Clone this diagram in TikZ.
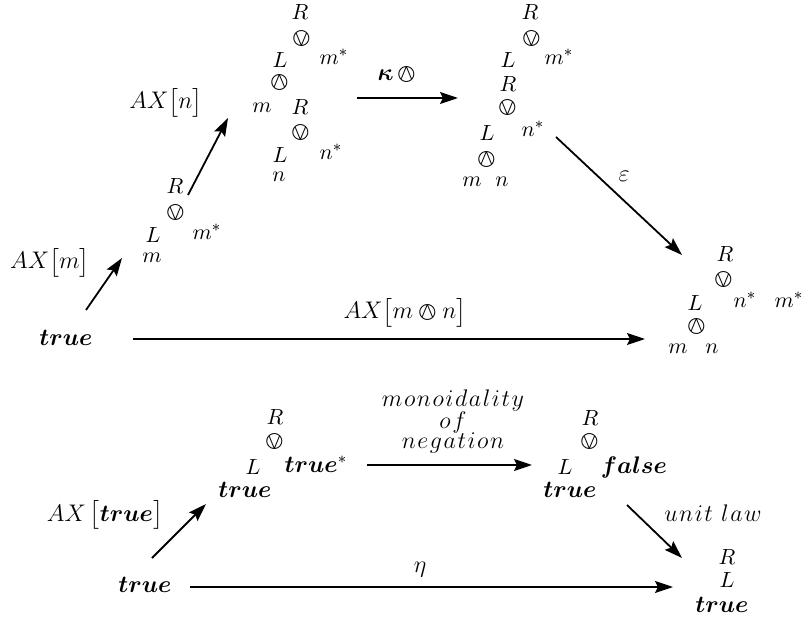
\documentclass[tikz,border=0pt]{standalone}
\usepackage{amsmath}
\usepackage{bm}
\usepackage{stmaryrd}
\usetikzlibrary{arrows.meta}
\newcommand{\tru}{\bm{true}}
\newcommand{\ls}{\mskip1.2mu}
\begin{document}
\begin{tikzpicture}[x=0.5pt,y=-0.5pt,
  lbl/.style={inner sep=0pt,outer sep=0pt,font=\fontsize{12}{14}\selectfont},
  tl/.style={inner sep=0pt,outer sep=0pt,font=\fontsize{11}{13}\selectfont},
  sym/.style={inner sep=0pt,outer sep=0pt,font=\fontsize{11.5}{13}\selectfont,text height=5.5pt,text depth=0pt},
  wide/.style={inner sep=0pt,outer sep=0pt,font=\fontsize{12}{14}\selectfont},
  arr/.style={line width=0.9pt,-{Stealth[length=9pt,width=6pt,inset=1.5pt]}}]
\useasboundingbox (0,0) rectangle (803,620);
% ---------- top diagram ----------
\node[lbl] (true1) at (66,338) {$\tru$};
% tree 1
\node[tl] (R1) at (175,186) {$R$};
\node[sym] (o1) at (176,213) {$\varovee$};
\node[tl] (L1) at (153,235) {$L$};
\node[tl] (ms1) at (207,232) {$m^*$};
\node[tl] (m1) at (152,258) {$m$};
% tree 2
\node[tl] (R2a) at (300,12) {$R$};
\node[sym] (o2a) at (302,39) {$\varovee$};
\node[tl] (L2a) at (280,60) {$L$};
\node[tl] (ms2) at (334,57) {$m^*$};
\node[sym] (w2) at (280,83) {$\varowedge$};
\node[tl] (m2) at (262,108) {$m$};
\node[tl] (R2b) at (300,107) {$R$};
\node[sym] (o2b) at (301,133) {$\varovee$};
\node[tl] (L2b) at (280,155) {$L$};
\node[tl] (ns2) at (331,152) {$n^*$};
\node[tl] (n2) at (279,177) {$n$};
% tree 3
\node[tl] (R3a) at (530,12) {$R$};
\node[sym] (o3a) at (532,39) {$\varovee$};
\node[tl] (L3a) at (508,60) {$L$};
\node[tl] (ms3) at (559,57) {$m^*$};
\node[tl] (R3b) at (508,84) {$R$};
\node[sym] (o3b) at (508,108) {$\varovee$};
\node[tl] (L3b) at (487,133) {$L$};
\node[tl] (ns3) at (533,129) {$n^*$};
\node[sym] (w3) at (487,160) {$\varowedge$};
\node[tl] (m3) at (472,182) {$m$};
\node[tl] (n3) at (502,182) {$n$};
% tree 4
\node[tl] (R4) at (725,254) {$R$};
\node[sym] (o4) at (724,280) {$\varovee$};
\node[tl] (L4) at (695,303) {$L$};
\node[tl] (ns4) at (745,300) {$n^*$};
\node[tl] (ms4) at (789,300) {$m^*$};
\node[sym] (w4) at (697,327) {$\varowedge$};
\node[tl] (m4) at (678,349) {$m$};
\node[tl] (n4) at (712,349) {$n$};
% arrow end points
\coordinate (a1s) at (86,310);  \coordinate (a1e) at (122,258);
\coordinate (a2s) at (188,195); \coordinate (a2e) at (228,118);
\coordinate (a3s) at (357,98);  \coordinate (a3e) at (458,98);
\coordinate (a4s) at (556,137); \coordinate (a4e) at (682,255);
\coordinate (a5s) at (133,339); \coordinate (a5e) at (645,339);
\draw[arr] (a1s) -- (a1e);
\draw[arr] (a2s) -- (a2e);
\draw[arr] (a3s) -- (a3e);
\draw[arr] (a4s) -- (a4e);
\draw[arr] (a5s) -- (a5e);
\node[lbl] (la1) at (50,263) {$AX\big[m\big]$};
\node[lbl] (la2) at (166,103) {$AX\big[n\big]$};
\node[lbl] (la3) at (397,75) {$\bm{\kappa}\,\varowedge$};
\node[lbl] (la4) at (624,176) {$\varepsilon$};
\node[lbl] (la5) at (405,313) {$AX\big[m\varowedge n\big]$};
% ---------- bottom diagram ----------
\node[lbl] (true5) at (145,585) {$\tru$};
\node[tl] (R5) at (275,417) {$R$};
\node[sym] (o5) at (275,442) {$\varovee$};
\node[tl] (L5) at (253,467) {$L$};
\node[lbl] (ts5) at (316,464) {$\tru^*$};
\node[lbl] (t5) at (245,490) {$\tru$};
\node[tl] (R6) at (590,418) {$R$};
\node[sym] (o6) at (590,442) {$\varovee$};
\node[tl] (L6) at (565,467) {$L$};
\node[lbl] (f6) at (634,467) {$\bm{false}$};
\node[lbl] (t6) at (570,490) {$\tru$};
\node[tl] (R7) at (727,557) {$R$};
\node[tl] (L7) at (727,580) {$L$};
\node[lbl] (t7) at (722,605) {$\tru$};
\coordinate (b1s) at (152,558); \coordinate (b1e) at (206,504);
\coordinate (b2s) at (367,465); \coordinate (b2e) at (532,465);
\coordinate (b3s) at (627,505); \coordinate (b3e) at (682,558);
\coordinate (b4s) at (190,587); \coordinate (b4e) at (673,587);
\draw[arr] (b1s) -- (b1e);
\draw[arr] (b2s) -- (b2e);
\draw[arr] (b3s) -- (b3e);
\draw[arr] (b4s) -- (b4e);
\node[lbl] (lb1) at (105,515) {$AX\,\big[\tru\big]$};
\node[wide] (lb2a) at (453,400) {$m\ls o\ls n\ls o\ls i\ls d\ls a\ls l\ls i\ls t\ls y$};
\node[wide] (lb2b) at (453,422) {$o\ls f$};
\node[wide] (lb2c) at (453,443) {$n\ls e\ls g\ls a\ls t\ls i\ls o\ls n$};
\node[wide] (lb3) at (713,513) {$u\ls n\ls i\ls t\;\ls l\ls a\ls w$};
\node[lbl] (lb4) at (420,570) {$\eta$};
\end{tikzpicture}
\end{document}
